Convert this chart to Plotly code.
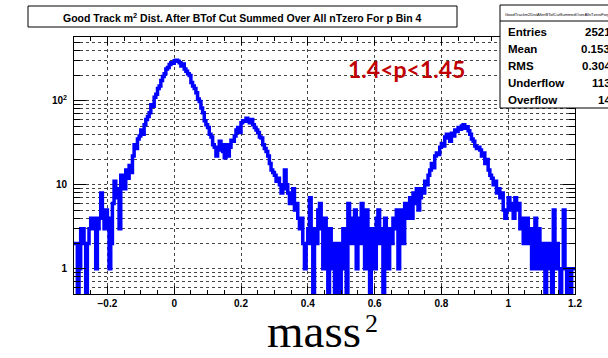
import plotly.graph_objects as go

# ---------------- data ----------------
bin_lo = -0.3
bin_width = 0.005
counts = [
    2, 2, 0, 1, 3, 3, 2, 0, 2, 3,
    4, 3, 4, 1, 3, 4, 8, 5, 3, 5,
    4, 1, 2, 6, 11, 7, 9, 3, 13, 10,
    9, 15, 12, 17, 14, 22, 30, 27, 35, 38,
    45, 40, 52, 60, 65, 72, 90, 86, 110, 120,
    140, 150, 175, 195, 210, 240, 250, 270, 285, 280,
    300, 305, 295, 285, 260, 275, 240, 225, 210, 200,
    165, 150, 140, 125, 105, 98, 82, 72, 58, 52,
    48, 40, 37, 30, 28, 22, 26, 33, 30, 25,
    21, 30, 22, 28, 34, 33, 38, 45, 48, 42,
    55, 58, 57, 62, 60, 55, 60, 52, 48, 45,
    42, 37, 36, 30, 27, 25, 22, 18, 15, 14,
    13, 11, 12, 10, 8, 9, 15, 10, 8, 6,
    7, 9, 5, 6, 4, 3, 4, 2, 1, 2,
    3, 7, 2, 0, 3, 2, 5, 6, 3, 1,
    4, 2, 0, 3, 1, 2, 0, 1, 2, 0,
    1, 3, 2, 0, 6, 3, 2, 4, 5, 1,
    4, 2, 6, 3, 1, 5, 3, 0, 3, 2,
    1, 4, 5, 2, 3, 0, 4, 2, 1, 3,
    2, 4, 3, 5, 1, 3, 5, 2, 6, 4,
    5, 7, 4, 8, 6, 9, 5, 7, 9, 8,
    11, 10, 13, 15, 18, 16, 22, 24, 23, 28,
    31, 29, 37, 40, 36, 33, 41, 38, 45, 43,
    48, 46, 50, 52, 47, 49, 44, 40, 35, 33,
    29, 27, 28, 26, 22, 24, 18, 20, 15, 13,
    12, 10, 11, 8, 9, 7, 8, 5, 4, 5,
    7, 6, 5, 4, 7, 5, 6, 3, 4, 2,
    3, 4, 2, 3, 1, 2, 4, 1, 3, 2,
    1, 2, 0, 1, 2, 1, 0, 5, 1, 2,
    1, 0, 1, 5, 1, 0, 1, 0, 1, 1,
]
x_ticks = [-0.2, 0, 0.2, 0.4, 0.6, 0.8, 1.0, 1.2]
x_ticktext = ["\u22120.2", "0", "0.2", "0.4", "0.6", "0.8", "1", "1.2"]
y_ticks = [1, 10, 100]
y_ticktext = ["1", "10", "10<sup>2</sup>"]
title_text = "Good Track m<sup>2</sup> Dist. After BTof Cut Summed Over All nTzero For p Bin 4"
stat_labels = ["Entries", "Mean", "RMS", "Underflow", "Overflow"]
stat_values = ["25211", "0.1534", "0.3047", "1133", "143"]
range_label = "1.4<p<1.45"

# ---------------- geometry ----------------
W, H = 608, 358
L, R, T, B = 74, 575, 37, 294


def px(xp):
    return (xp - L) / (R - L)


def py(yp):
    return (B - yp) / (B - T)


edges = [bin_lo + i * bin_width for i in range(len(counts) + 1)]
yvals = [c if c > 0 else 0.1 for c in counts]
yvals = yvals + [yvals[-1]]

fig = go.Figure()
fig.add_trace(go.Scatter(
    x=edges, y=yvals, mode="lines",
    line=dict(shape="hv", color="#0000ff", width=3.5),
    hoverinfo="skip", showlegend=False,
))

minor_y = []
for dec in [0.1, 1, 10, 100]:
    for m in range(2, 10):
        v = m * dec
        if 0.5 <= v <= 575:
            minor_y.append(v)

tickfont = dict(family="Liberation Sans", size=10, color="black", weight="bold")

fig.update_layout(
    width=W, height=H,
    margin=dict(l=L, r=W - R, t=T, b=H - B, pad=0),
    paper_bgcolor="white", plot_bgcolor="white",
    showlegend=False,
    xaxis=dict(
        range=[-0.3, 1.2], tickmode="array", tickvals=x_ticks, ticktext=x_ticktext,
        ticks="inside", ticklen=8, tickwidth=1, tickcolor="black",
        showline=True, linecolor="black", linewidth=1, mirror="allticks",
        showgrid=True, gridcolor="#444", griddash="dot", gridwidth=1,
        zeroline=False, tickfont=tickfont,
        minor=dict(dtick=0.05, tick0=0, ticks="inside", ticklen=4, tickcolor="black", showgrid=False),
    ),
    yaxis=dict(
        type="log", range=[-0.3, 2.76], tickmode="array", tickvals=y_ticks, ticktext=y_ticktext,
        ticks="inside", ticklen=12, tickwidth=1, tickcolor="black",
        showline=True, linecolor="black", linewidth=1, mirror="allticks",
        showgrid=True, gridcolor="#444", griddash="dot", gridwidth=1,
        zeroline=False, tickfont=tickfont, ticklabelstandoff=4,
        minor=dict(tickmode="array", tickvals=minor_y, ticks="inside", ticklen=6,
                   tickcolor="black", showgrid=True, gridcolor="#444", griddash="dot", gridwidth=1),
    ),
)

shapes = []
annotations = []
# title box
shapes.append(dict(type="rect", xref="paper", yref="paper",
                   x0=px(28), x1=px(457), y0=py(27), y1=py(6),
                   line=dict(color="black", width=1), fillcolor="white", layer="above"))
annotations.append(dict(xref="paper", yref="paper", x=px(242.5), y=py(17), text=title_text,
                        showarrow=False, xanchor="center", yanchor="middle",
                        font=dict(family="Liberation Sans", size=10.5, color="black", weight="bold")))
# stats box
shapes.append(dict(type="rect", xref="paper", yref="paper",
                   x0=px(500), x1=px(640), y0=py(108), y1=py(5),
                   line=dict(color="black", width=1), fillcolor="white", layer="above"))
shapes.append(dict(type="line", xref="paper", yref="paper",
                   x0=px(500), x1=px(640), y0=py(21), y1=py(21),
                   line=dict(color="black", width=1), layer="above"))
annotations.append(dict(xref="paper", yref="paper", x=px(503), y=py(14),
                        text="GoodTrackm2DistAfterBTofCutSummedOverAllnTzeroForpBin4",
                        showarrow=False, xanchor="left", yanchor="middle",
                        font=dict(family="Liberation Sans", size=4, color="black")))
row_y = [32, 49, 66, 83, 100]
for lab, val, yy in zip(stat_labels, stat_values, row_y):
    annotations.append(dict(xref="paper", yref="paper", x=px(506), y=py(yy), text=lab,
                            showarrow=False, xanchor="left", yanchor="middle",
                            font=dict(family="Liberation Sans", size=11.5, color="black", weight="bold")))
    annotations.append(dict(xref="paper", yref="paper", x=px(619), y=py(yy), text=val,
                            showarrow=False, xanchor="right", yanchor="middle",
                            font=dict(family="Liberation Sans", size=11.5, color="black", weight="bold")))
# momentum label
annotations.append(dict(xref="paper", yref="paper", x=px(406), y=py(69), text=range_label,
                        showarrow=False, xanchor="center", yanchor="middle",
                        font=dict(family="Lato", size=23, color="#c00000", weight="bold")))
# axis label mass^2
annotations.append(dict(xref="paper", yref="paper", x=px(363), y=py(359), text="mass",
                        showarrow=False, xanchor="right", yanchor="bottom",
                        font=dict(family="Liberation Serif", size=47, color="black")))
annotations.append(dict(xref="paper", yref="paper", x=px(363), y=py(340), text="2",
                        showarrow=False, xanchor="left", yanchor="bottom",
                        font=dict(family="Liberation Serif", size=26, color="black")))

fig.update_layout(shapes=shapes, annotations=annotations)
fig.write_html("out.html")
